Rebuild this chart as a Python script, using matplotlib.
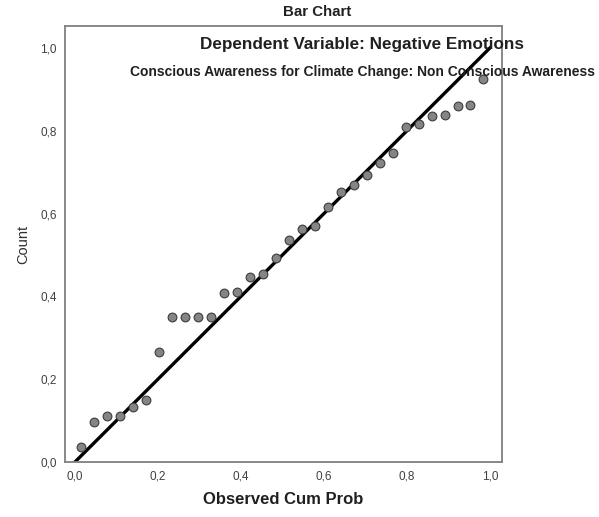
import matplotlib
matplotlib.use("Agg")
import matplotlib.pyplot as plt
from matplotlib.ticker import FuncFormatter

plt.rcParams['font.family'] = ['Liberation Sans', 'DejaVu Sans']

# observed cumulative probability vs expected (P-P plot values)
observed = [(i - 0.5) / 32 for i in range(1, 33)]
expected = [0.036, 0.097, 0.110, 0.110, 0.134, 0.149, 0.266, 0.349,
            0.349, 0.349, 0.349, 0.407, 0.411, 0.448, 0.455, 0.493,
            0.536, 0.562, 0.569, 0.616, 0.651, 0.668, 0.693, 0.721,
            0.747, 0.808, 0.816, 0.836, 0.838, 0.861, 0.862, 0.925]
ref_line = [0.0, 1.0]
ticks = [0.0, 0.2, 0.4, 0.6, 0.8, 1.0]

fig = plt.figure(figsize=(5.99, 5.17), dpi=100)
ax = fig.add_axes([0.1085, 0.1064, 0.7295, 0.8433])

ax.plot(ref_line, ref_line, color="black", lw=2.4, zorder=2)
ax.plot(observed, expected, "o", ms=6.3, mfc="#858585", mec="#3c3c3c",
        mew=0.8, zorder=3)

ax.set_xlim(-0.024, 1.029)
ax.set_ylim(0.0, 1.053)
ax.set_xticks(ticks)
ax.set_yticks(ticks)
fmt = FuncFormatter(lambda v, p: f"{v:.1f}".replace(".", ","))
ax.xaxis.set_major_formatter(fmt)
ax.yaxis.set_major_formatter(fmt)
ax.tick_params(length=0, labelsize=8.5, labelcolor="#404040", pad=6)
for s in ax.spines.values():
    s.set_color("#808080")
    s.set_linewidth(1.3)

ax.set_xlabel("Observed Cum Prob", fontsize=12, fontweight="bold",
              color="#202020", labelpad=7)
ax.set_ylabel("Count", fontsize=10.5, color="#303030", labelpad=7)

fig.text(0.529, 0.976, "Bar Chart", ha="center", va="center",
         fontsize=10.8, fontweight="bold", color="#202020")
fig.text(0.605, 0.913, "Dependent Variable: Negative Emotions",
         ha="center", va="center", fontsize=12.3, fontweight="bold",
         color="#202020")
fig.text(0.606, 0.861,
         "Conscious Awareness for Climate Change: Non Conscious Awareness",
         ha="center", va="center", fontsize=10, fontweight="bold",
         color="#202020")

fig.savefig("out.png", dpi=100)
